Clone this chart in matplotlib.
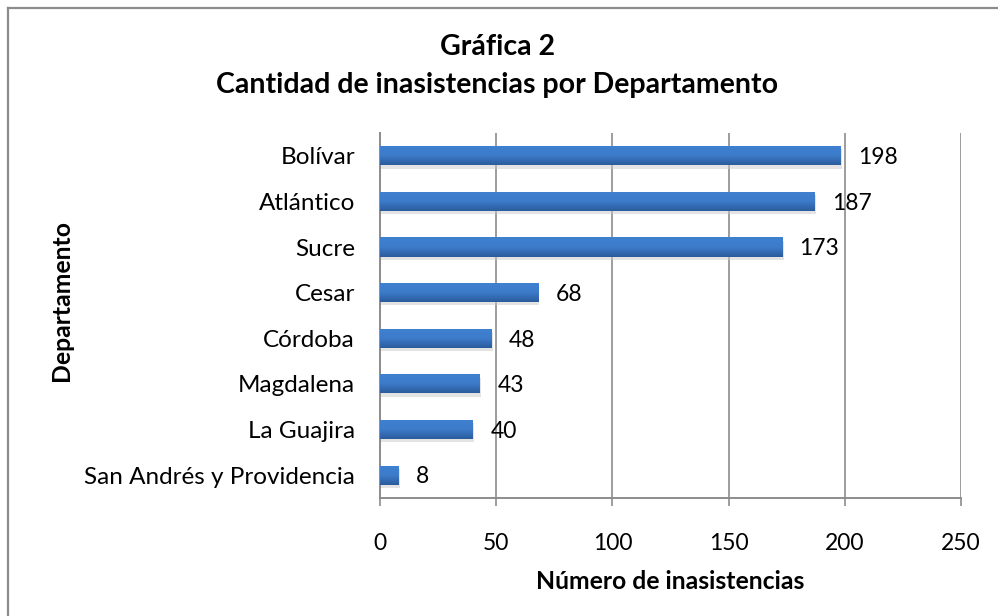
"""Horizontal bar chart: inasistencias por departamento (Gráfica 2)."""

import matplotlib

matplotlib.use("Agg")
import matplotlib.pyplot as plt  # noqa: E402
import numpy as np  # noqa: E402
from matplotlib.colors import LinearSegmentedColormap  # noqa: E402
from matplotlib.lines import Line2D  # noqa: E402

departamentos = [
    "Bolívar",
    "Atlántico",
    "Sucre",
    "Cesar",
    "Córdoba",
    "Magdalena",
    "La Guajira",
    "San Andrés y Providencia",
]
inasistencias = [198, 187, 173, 68, 48, 43, 40, 8]
xticks = [0, 50, 100, 150, 200, 250]

plt.rcParams["font.family"] = ["Lato", "DejaVu Sans"]

fig = plt.figure(figsize=(9.98, 6.16), dpi=100)
ax = fig.add_axes([0.3808, 0.1916, 0.5822, 0.5925])

y = np.arange(len(departamentos))[::-1]
bar_h = 0.42

# soft shadow under each bar
ax.barh(y - 0.07, inasistencias, height=bar_h, left=0.6, color="#c8c8c8",
        alpha=0.5, zorder=2, linewidth=0)
bars = ax.barh(y, inasistencias, height=bar_h, color="#3a74c2", zorder=3,
               linewidth=0)

# vertical gradient inside the bars (light top, darker bottom)
grad = LinearSegmentedColormap.from_list("bar", ["#2b5c9c", "#3d7ccb", "#3f80d0"])
for b in bars:
    x0, y0 = b.get_x(), b.get_y()
    w, h = b.get_width(), b.get_height()
    im = ax.imshow(np.linspace(0, 1, 64).reshape(-1, 1), cmap=grad, aspect="auto",
                   origin="lower", extent=(x0, x0 + w, y0, y0 + h), zorder=4)
    im.set_clip_path(b)

for yi, v in zip(y, inasistencias):
    ax.text(v + 7.5, yi - 0.04, str(v), va="center", ha="left", fontsize=16.5,
            color="#000000", zorder=5)

ax.set_xlim(0, 250)
ax.set_ylim(-0.5, len(departamentos) - 0.5)
ax.set_xticks(xticks)
ax.set_yticks(y)
ax.set_yticklabels(departamentos)
ax.tick_params(axis="y", length=0, pad=18, labelsize=17.5)
ax.tick_params(axis="x", length=6, width=1.2, color="#8c8c8c", pad=19,
               labelsize=16.5, direction="out")

ax.grid(axis="x", color="#8c8c8c", linewidth=1.2, zorder=0)
ax.set_axisbelow(True)
for side in ("top", "right"):
    ax.spines[side].set_visible(False)
for side in ("left", "bottom"):
    ax.spines[side].set_color("#8c8c8c")
    ax.spines[side].set_linewidth(1.4)

ax.set_xlabel("Número de inasistencias", fontsize=17.8, fontweight="bold", labelpad=12)
fig.text(0.062, 0.512, "Departamento", rotation=90, ha="center", va="center",
         fontsize=17.8, fontweight="bold")

fig.text(0.498, 0.924, "Gráfica 2", ha="center", va="center", fontsize=20.5,
         fontweight="bold")
fig.text(0.498, 0.862, "Cantidad de inasistencias por Departamento", ha="center",
         va="center", fontsize=20.5, fontweight="bold")

# outer chart frame (left and top edges visible)
fig.add_artist(Line2D([0.0085, 0.0085], [0, 0.987], transform=fig.transFigure,
                      color="#8c8c8c", linewidth=1.6))
fig.add_artist(Line2D([0.0085, 1.0], [0.987, 0.987], transform=fig.transFigure,
                      color="#8c8c8c", linewidth=1.6))

fig.savefig("out.png", dpi=100)
print("saved out.png")
